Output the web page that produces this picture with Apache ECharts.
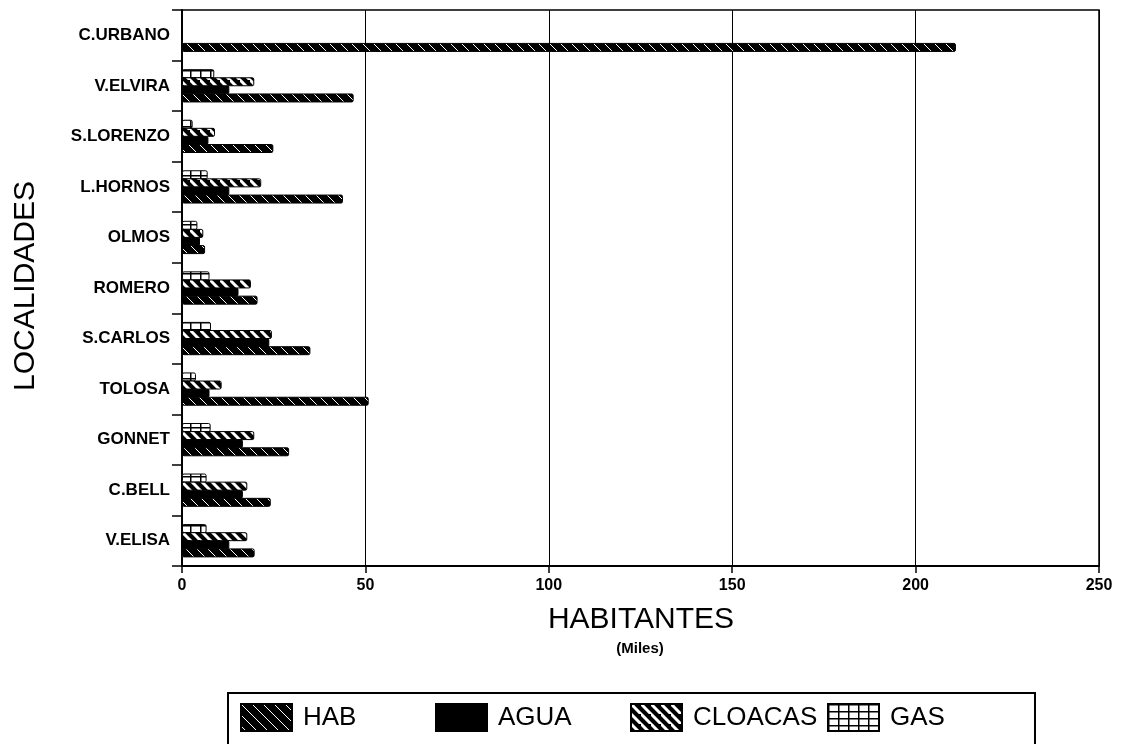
<!DOCTYPE html>
<html>
<head>
<meta charset="utf-8">
<script src="https://cdn.jsdelivr.net/npm/echarts@6/dist/echarts.min.js"></script>
<style>
html,body{margin:0;padding:0;background:#fff;}
#chart{width:1125px;height:744px;}
</style>
</head>
<body>
<div id="chart"></div>
<script>
// Categories (bottom to top)
const categories = ['V.ELISA','C.BELL','GONNET','TOLOSA','S.CARLOS','ROMERO','OLMOS','L.HORNOS','S.LORENZO','V.ELVIRA','C.URBANO'];
// Series values (miles de habitantes)
const hab     = [19.8, 24.2, 29.2, 50.9, 35.0, 20.6, 6.3, 43.9, 24.9, 46.8, 211];
const agua    = [12.9, 16.6, 16.6, 7.5, 23.8, 15.4, 4.9, 12.9, 7.2, 12.9, null];
const cloacas = [17.8, 17.8, 19.7, 10.8, 24.5, 18.8, 5.8, 21.6, 9.0, 19.7, null];
const gas     = [6.7, 6.7, 7.8, 3.8, 7.9, 7.5, 4.2, 7.0, 2.9, 8.8, null];
const xTicks = [0, 50, 100, 150, 200, 250];

function stripePattern(bg, fg, lw, size) {
  const c = document.createElement('canvas');
  c.width = size; c.height = size;
  const g = c.getContext('2d');
  g.fillStyle = bg; g.fillRect(0, 0, size, size);
  g.strokeStyle = fg; g.lineWidth = lw;
  g.beginPath();
  g.moveTo(-2, -2); g.lineTo(size + 2, size + 2);
  g.moveTo(-size - 2, -2); g.lineTo(2, size + 2);
  g.moveTo(size - 2, -size - 2); g.lineTo(2 * size + 2, size + 2);
  g.stroke();
  return { image: c, repeat: 'repeat' };
}
function gridPattern(w, h) {
  const c = document.createElement('canvas');
  c.width = w; c.height = h;
  const g = c.getContext('2d');
  g.fillStyle = '#fff'; g.fillRect(0, 0, w, h);
  g.fillStyle = '#000';
  g.fillRect(0, 0, w, 1.5);
  g.fillRect(0, 0, 1.5, h);
  return { image: c, repeat: 'repeat' };
}

const habColor = stripePattern('#000', '#fff', 1, 11);
const cloColor = stripePattern('#000', '#fff', 3, 10);
const gasColor = gridPattern(10, 7);

const chart = echarts.init(document.getElementById('chart'), null, { renderer: 'canvas' });
const font = 'Liberation Sans, Arial, Helvetica, sans-serif';

function legendAt(name, left) {
  return {
    data: [name], left: left, top: 703, orient: 'horizontal',
    itemWidth: 51, itemHeight: 27, icon: 'rect', padding: 0,
    textStyle: { fontFamily: font, fontSize: 26, color: '#000', padding: [0, 0, 0, 6] },
    selectedMode: false
  };
}

function barSeries(name, data, color, z) {
  return {
    name: name, type: 'bar', data: data, barWidth: 9, barGap: '-10%', barCategoryGap: '30%',
    z: z, animation: false,
    itemStyle: { color: color, borderColor: '#000', borderWidth: 1, borderRadius: 1.5 }
  };
}

chart.setOption({
  backgroundColor: '#fff',
  animation: false,
  grid: { left: 182, right: 26, top: 10, bottom: 178, show: true, borderColor: '#000', borderWidth: 1.5, containLabel: false },
  xAxis: {
    type: 'value', min: xTicks[0], max: xTicks[xTicks.length - 1], interval: 50,
    axisLine: { show: true, lineStyle: { color: '#000', width: 2 } },
    axisTick: { show: true, length: 7, lineStyle: { color: '#000', width: 1.5 } },
    axisLabel: { fontFamily: font, fontWeight: 'bold', fontSize: 16, color: '#000', margin: 12 },
    splitLine: { show: true, lineStyle: { color: '#000', width: 1 } }
  },
  yAxis: {
    type: 'category', data: categories,
    axisLine: { show: true, lineStyle: { color: '#000', width: 2 } },
    axisTick: { show: true, length: 10, lineStyle: { color: '#000', width: 1.5 } },
    axisLabel: { fontFamily: font, fontWeight: 'bold', fontSize: 17, color: '#000', margin: 12 },
    splitLine: { show: false }
  },
  legend: [
    legendAt('HAB', 240),
    legendAt('AGUA', 435),
    legendAt('CLOACAS', 630),
    legendAt('GAS', 827)
  ],
  series: [
    barSeries('GAS', gas, gasColor, 3),
    barSeries('CLOACAS', cloacas, cloColor, 4),
    barSeries('AGUA', agua, '#000', 2),
    barSeries('HAB', hab, habColor, 5)
  ],
  graphic: [
    { type: 'text', x: 641, y: 620, style: { text: 'HABITANTES', font: 'normal 30px ' + font, fill: '#000', align: 'center', verticalAlign: 'middle' } },
    { type: 'text', x: 640, y: 649, style: { text: '(Miles)', font: 'bold 15px ' + font, fill: '#000', align: 'center', verticalAlign: 'middle' } },
    { type: 'text', x: 26, y: 286, rotation: Math.PI / 2, style: { text: 'LOCALIDADES', font: 'normal 30px ' + font, fill: '#000', align: 'center', verticalAlign: 'middle' } },
    { type: 'rect', shape: { x: 228, y: 693, width: 807, height: 80 }, style: { fill: 'none', stroke: '#000', lineWidth: 2 }, z: -1 }
  ]
});
</script>
</body>
</html>
